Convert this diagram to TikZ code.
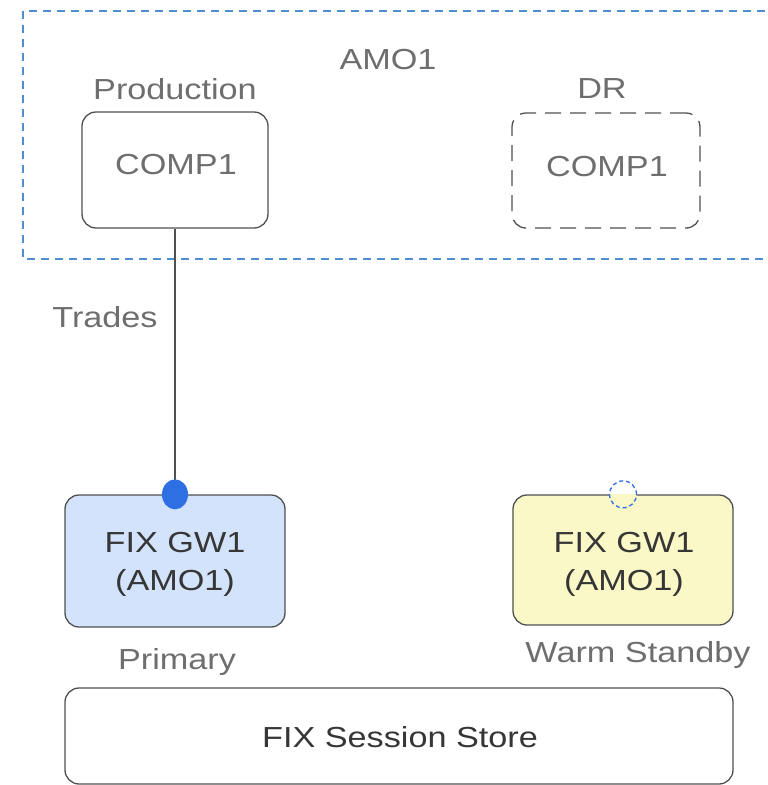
\documentclass[tikz,border=0pt]{standalone}
\usepackage{fontspec}
\usetikzlibrary{shapes.geometric}
\setmainfont[FakeStretch=1.18]{Liberation Sans}
\definecolor{zoneblue}{HTML}{4C8FD0}
\definecolor{dotblue}{HTML}{2F6FE4}
\definecolor{boxline}{HTML}{505050}
\definecolor{lbl}{HTML}{6E6E6E}
\definecolor{dark}{HTML}{363636}
\definecolor{primfill}{HTML}{D3E3FB}
\definecolor{stbyfill}{HTML}{F9F8C6}
\begin{document}
\begin{tikzpicture}[x=1pt,y=-1pt,
  box/.style={draw=boxline,line width=1.3pt,rounded corners=14pt,inner sep=0pt},
  lab/.style={text=lbl,font=\fontsize{29}{32}\selectfont,inner sep=0pt},
  gwtext/.style={text=dark,font=\fontsize{29}{38}\selectfont,align=center,inner sep=0pt}]
\useasboundingbox (0,0) rectangle (768,785);
\begin{scope}
\clip (0,0) rectangle (768,785);
\draw[zoneblue,line width=1.3pt,dash pattern=on 8pt off 6pt] (23,11) rectangle (790,259);
\end{scope}
\node[lab] (amo) at (388,60) {AMO1};
\node[lab] (prodl) at (175,89) {Production};
\node[lab] (drl) at (602,89) {DR};
\node[box,minimum width=186pt,minimum height=116pt] (prod) at (175,170) {};
\node[lab] (prodt) at (176,165) {COMP1};
\node[box,dashed,dash pattern=on 16pt off 9pt,minimum width=188pt,minimum height=115pt] (dr) at (606,170.5) {};
\node[lab] (drt) at (607,167) {COMP1};
\node[box,fill=primfill,minimum width=220pt,minimum height=132pt] (gw1) at (175,561) {};
\node[gwtext] (gw1t) at (175,564) {FIX GW1\\(AMO1)};
\node[box,fill=stbyfill,minimum width=220pt,minimum height=130pt] (gw2) at (623,560) {};
\node[gwtext] (gw2t) at (624,564) {FIX GW1\\(AMO1)};
\node[lab] (trades) at (105,317) {Trades};
\node[lab] (prim) at (177,662) {Primary};
\node[lab] (warm) at (638,655) {Warm Standby};
\node[box,minimum width=668pt,minimum height=96pt] (store) at (399,736) {};
\node[gwtext] (storet) at (400,737) {FIX Session Store};
\draw[boxline,line width=1.3pt] (prod.south) -- (gw1.north);
\node[ellipse,fill=dotblue,minimum width=26pt,minimum height=30pt,inner sep=0pt] (dot) at (gw1.north) {};
\node[circle,fill=white,minimum size=27pt,inner sep=0pt] (dot2) at (gw2.north) {};
\begin{scope}
\clip (gw2.north west) rectangle (gw2.south east);
\fill[stbyfill] (dot2.center) circle (13.5pt);
\end{scope}
\draw[dotblue,dash pattern=on 4pt off 3pt,line width=1.3pt] (dot2.center) circle (13.5pt);
\end{tikzpicture}
\end{document}
